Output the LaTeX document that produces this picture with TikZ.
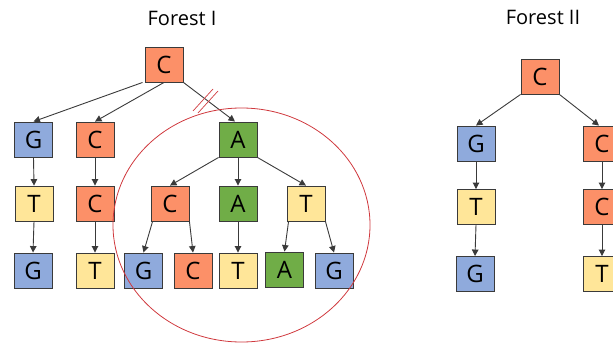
\documentclass[tikz,border=0pt]{standalone}
\usepackage{fontspec}
\setmainfont{Open Sans}
\usetikzlibrary{arrows.meta}
\definecolor{cO}{HTML}{FC9068}
\definecolor{cB}{HTML}{8FAADC}
\definecolor{cY}{HTML}{FFE699}
\definecolor{cG}{HTML}{70AD47}
\definecolor{edgec}{HTML}{3A3A3A}
\definecolor{redc}{HTML}{D0393E}
\begin{document}
\begin{tikzpicture}[x=1pt,y=-1pt,
  base/.style={draw=edgec,line width=0.9pt,minimum width=38pt,minimum height=35pt,inner sep=0pt,font=\fontsize{24}{24}\selectfont},
  nO/.style={base,fill=cO},
  nB/.style={base,fill=cB},
  nY/.style={base,fill=cY},
  nG/.style={base,fill=cG},
  title/.style={font=\fontsize{20}{20}\selectfont},
  link/.style={draw=edgec,line width=0.9pt,-{Triangle[width=6.5pt,length=6.5pt]}},
  hash/.style={draw=redc,line width=0.7pt}]
\useasboundingbox (0,0) rectangle (613,345);
% titles
\node[title] (t1) at (182,18) {Forest I};
\node[title] (t2) at (543,17) {Forest II};
% Forest I
\node[nO] (r) at (164,64.5) {C};
\node[nB] (a1) at (33.5,139.5) {G};
\node[nO] (a2) at (95,139.5) {C};
\node[nG] (a3) at (238,139.5) {A};
\node[nY] (b1) at (34,203.5) {T};
\node[nO] (b2) at (95,203.5) {C};
\node[nO] (b3) at (170,203.5) {C};
\node[nG] (b4) at (238,203.5) {A};
\node[nY] (b5) at (306,203.5) {T};
\node[nB] (c1) at (33,270.5) {G};
\node[nY] (c2) at (95,270.5) {T};
\node[nB] (c3) at (143.5,270.5) {G};
\node[nO] (c4) at (193,270.5) {C};
\node[nY] (c5) at (238,270.5) {T};
\node[nG] (c6) at (284.5,269.5) {A};
\node[nB] (c7) at (334,270.5) {G};
\draw[link] ([xshift=-2pt]r.south west) -- (a1.north);
\draw[link] (r.south) -- (a2.north);
\draw[link] (r.south east) -- ([xshift=-3pt]a3.north);
\draw[link] (a1.south) -- (b1.north);
\draw[link] (a2.south) -- (b2.north);
\draw[link] (a3.south west) -- (b3.north);
\draw[link] (a3.south) -- (b4.north);
\draw[link] (a3.south east) -- (b5.north);
\draw[link] (b1.south) -- (c1.north);
\draw[link] (b2.south) -- (c2.north);
\draw[link] ([xshift=2pt]b3.south west) -- (c3.north);
\draw[link] (b3.south east) -- (c4.north);
\draw[link] (b4.south) -- (c5.north);
\draw[link] ([xshift=2pt]b5.south west) -- (c6.north);
\draw[link] (b5.south east) -- (c7.north);
% circle on top
\draw[redc,line width=0.8pt] (241.5,225) ellipse [x radius=128.5, y radius=117];
% hash marks
\coordinate (h1a) at (193,111);
\coordinate (h1b) at (213,89);
\coordinate (h2a) at (198,113);
\coordinate (h2b) at (218,91);
\draw[hash] (h1a) -- (h1b);
\draw[hash] (h2a) -- (h2b);
% Forest II
\node[nO] (s) at (540,76.5) {C};
\node[nB] (d1) at (476,143.5) {G};
\node[nO] (d2) at (602,143.5) {C};
\node[nY] (e1) at (476,207) {T};
\node[nO] (e2) at (602,207) {C};
\node[nB] (f1) at (475,274) {G};
\node[nY] (f2) at (602,274) {T};
\draw[link] (s.south west) -- (d1.north);
\draw[link] (s.south east) -- ([xshift=-3pt]d2.north);
\draw[link] (d1.south) -- (e1.north);
\draw[link] (d2.south) -- (e2.north);
\draw[link] (e1.south) -- (f1.north);
\draw[link] (e2.south) -- (f2.north);
\end{tikzpicture}
\end{document}
